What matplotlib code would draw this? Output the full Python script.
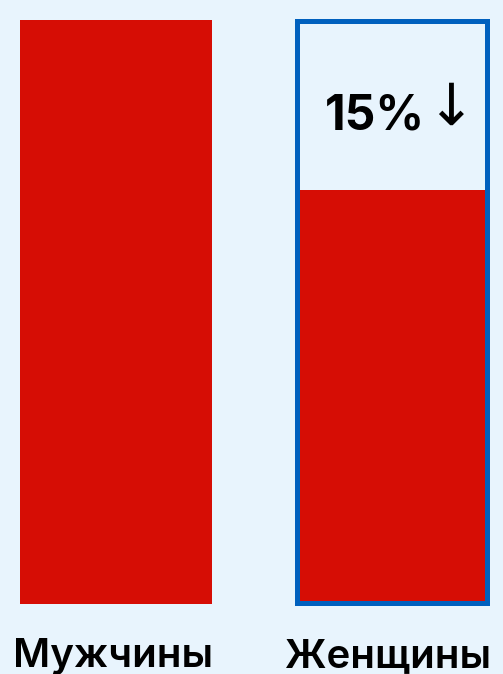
import matplotlib.pyplot as plt
from matplotlib.transforms import blended_transform_factory

# data
groups = ["Мужчины", "Женщины"]
values = [100, 70.9]
change_label = "15%↓"

bg = "#e8f4fd"
red = "#d60d05"
blue = "#0060be"

plt.rcParams['font.family'] = ['Inter', 'DejaVu Sans']

fig = plt.figure(figsize=(5.03, 6.74), dpi=100, facecolor=bg)
ax = fig.add_axes([0, 0, 1, 1])
ax.set_facecolor(bg)

px = 275.5  # pixels per category step


def xp(p):
    # pixel column -> data x
    return (p - 116) / px


ax.set_xlim(xp(0), xp(503))
# 0 at 604 px from top, 100 at 20 px from top
unit = 584 / 100
ax.set_ylim(-(674 - 604) / unit, 604 / unit)
ax.axis('off')

# men bar
ax.bar(0, values[0], width=192 / px, bottom=0, color=red, linewidth=0)

# women: outline box with the bar inside
ax.bar(1, 99.7, width=190 / px, bottom=0.17,
       facecolor='none', edgecolor=blue, linewidth=3.6, zorder=3)
ax.bar(1, values[1] - 0.3, width=188 / px, bottom=0.3, color=red, linewidth=0, zorder=2)

# change label inside the box: bold number, thin arrow
base_y = (604 - 129) / unit
ax.text(xp(425), base_y, change_label[:-1], ha='right', va='baseline',
        fontsize=34.5, fontweight='bold', color='black')
ax.text(xp(426), (604 - 108) / unit, change_label[-1], ha='left', va='center',
        fontsize=42, fontweight='normal', color='black', family='DejaVu Sans')

trans = blended_transform_factory(ax.transData, ax.transAxes)
for i, name in enumerate(groups):
    ax.text(i - 0.012, 7 / 674, name, transform=trans, ha='center', va='baseline',
            fontsize=29, fontweight='semibold', color='black')

fig.savefig("out.png", dpi=100, facecolor=bg)
